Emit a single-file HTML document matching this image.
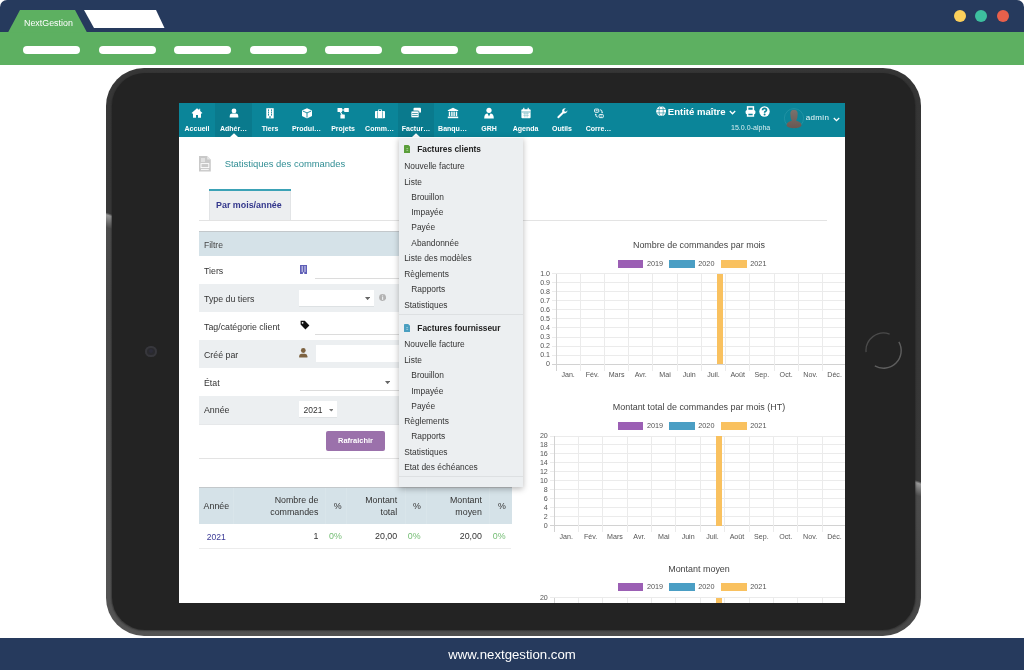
<!DOCTYPE html>
<html><head><meta charset="utf-8"><style>
html,body{margin:0;padding:0;}
body{width:1024px;height:670px;position:relative;overflow:hidden;background:#fff;font-family:"Liberation Sans", sans-serif;-webkit-font-smoothing:antialiased;}
</style></head><body>
<div style="position:absolute;left:0;top:0;width:1024px;height:670px;will-change:transform;">
<div style="position:absolute;left:0px;top:0px;width:1024px;height:33px;background:#263a5d;border-radius:7px 7px 0 0;"></div>
<div style="position:absolute;left:0px;top:32px;width:1024px;height:33px;background:#5db061;"></div>
<svg style="position:absolute;left:0px;top:0px;" width="200" height="40" viewBox="0 0 200 40"><polygon points="8,32.5 20,10 75,10 87,32.5" fill="#5db061"/><polygon points="84,10 156,10 164.5,28 94,28" fill="#fff"/></svg>
<div style="position:absolute;left:24px;top:19.47px;font-size:8.9px;line-height:8.9px;color:#fff;font-weight:normal;white-space:nowrap;">NextGestion</div>
<div style="position:absolute;left:23.0px;top:46px;width:57px;height:8px;background:#fff;border-radius:4px;"></div>
<div style="position:absolute;left:98.5px;top:46px;width:57px;height:8px;background:#fff;border-radius:4px;"></div>
<div style="position:absolute;left:174.0px;top:46px;width:57px;height:8px;background:#fff;border-radius:4px;"></div>
<div style="position:absolute;left:249.5px;top:46px;width:57px;height:8px;background:#fff;border-radius:4px;"></div>
<div style="position:absolute;left:325.0px;top:46px;width:57px;height:8px;background:#fff;border-radius:4px;"></div>
<div style="position:absolute;left:400.5px;top:46px;width:57px;height:8px;background:#fff;border-radius:4px;"></div>
<div style="position:absolute;left:476.0px;top:46px;width:57px;height:8px;background:#fff;border-radius:4px;"></div>
<div style="position:absolute;left:954.4px;top:10px;width:12px;height:12px;background:#fbcf5b;border-radius:50%;"></div>
<div style="position:absolute;left:975.3px;top:10px;width:12px;height:12px;background:#3dbf9f;border-radius:50%;"></div>
<div style="position:absolute;left:996.6px;top:10px;width:12px;height:12px;background:#e8604b;border-radius:50%;"></div>
<div style="position:absolute;left:0px;top:638px;width:1024px;height:32px;background:#263a5d;"></div>
<div style="position:absolute;left:212px;width:600px;text-align:center;top:648.33px;font-size:13.2px;line-height:13.2px;color:#ffffff;font-weight:normal;white-space:nowrap;">www.nextgestion.com</div>
<div style="position:absolute;left:106px;top:67.5px;width:814.5px;height:568px;background:linear-gradient(198.3deg,#353535 0%,#383838 49.4%,#999 49.7%,#4c4c4c 51.2%,#464646 60%,#555 100%);border-radius:38px;"></div>
<div style="position:absolute;left:111.5px;top:72.5px;width:803.5px;height:557.5px;background:#232323;border-radius:33px;box-shadow:0 0.5px 1.5px 0.5px rgba(35,35,35,0.55);"></div>
<div style="position:absolute;left:145.3px;top:345.7px;width:11.4px;height:11.4px;background:#2a2a2e;border-radius:50%;box-shadow:inset 0 0 0 2px #37373c;"></div>
<div style="position:absolute;left:149px;top:349.4px;width:4px;height:4px;background:#2c2c38;border-radius:50%;"></div>
<svg style="position:absolute;left:864px;top:331px;" width="40" height="40" viewBox="0 0 40 40"><path d="M2.07 21.13 A17.6 17.6 0 0 1 25.62 3.06" stroke="#4b4b4b" stroke-width="1.3" fill="none"/><path d="M34.84 10.80 A17.6 17.6 0 0 1 10.80 34.84" stroke="#5e5e5e" stroke-width="1.4" fill="none"/></svg>
</div>
<div style="position:absolute;left:178.5px;top:103px;width:666.6px;height:500.3px;overflow:hidden;background:#fff;"><div style="position:absolute;left:-178.5px;top:-103px;width:1024px;height:670px;will-change:transform;">
<div style="position:absolute;left:178.5px;top:103px;width:667px;height:500.5px;background:#fff;"></div>
<div style="position:absolute;left:178.5px;top:103px;width:667px;height:33.5px;background:#0b8599;"></div>
<svg style="position:absolute;left:191.0px;top:107.2px;" width="12" height="12" viewBox="0 0 12 12"><path d="M6 1.2 L0.6 6 L1.4 6.8 L2 6.3 V10.8 H5 V8 H7 V10.8 H10 V6.3 L10.6 6.8 L11.4 6 L9.2 4 V1.8 H8.2 V3.1 Z" fill="#ffffff"/></svg>
<div style="position:absolute;left:-103.0px;width:600px;text-align:center;top:125.37px;font-size:7px;line-height:7px;color:#ffffff;font-weight:bold;white-space:nowrap;">Accueil</div>
<div style="position:absolute;left:215.25px;top:103px;width:36.5px;height:33.5px;background:#0a7a8d;"></div>
<svg style="position:absolute;left:229.5px;top:133px;" width="8" height="4" viewBox="0 0 8 4"><path d="M0 4 L4 0.3 L8 4 Z" fill="#fff"/></svg>
<svg style="position:absolute;left:227.5px;top:107.2px;" width="12" height="12" viewBox="0 0 12 12"><circle cx="6" cy="3.9" r="2.4" fill="#ffffff"/><path d="M1.7 10.6 V8.9 Q1.7 6.6 4.1 6.6 H7.9 Q10.3 6.6 10.3 8.9 V10.6 Z" fill="#ffffff"/></svg>
<div style="position:absolute;left:-66.5px;width:600px;text-align:center;top:125.37px;font-size:7px;line-height:7px;color:#ffffff;font-weight:bold;white-space:nowrap;">Adhér…</div>
<svg style="position:absolute;left:264.0px;top:107.2px;" width="12" height="12" viewBox="0 0 12 12"><rect x="2.3" y="1.2" width="7.4" height="10.2" fill="#ffffff"/><path d="M4.5 2.4 V8.6 M7.5 2.4 V8.6" stroke="#0b8599" stroke-width="0.9"/><path d="M3.4 4.4 H8.6 M3.4 6.4 H8.6" stroke="#ffffff" stroke-width="0.6"/><rect x="5.4" y="9.2" width="1.2" height="2.2" fill="#0b8599"/></svg>
<div style="position:absolute;left:-30.0px;width:600px;text-align:center;top:125.37px;font-size:7px;line-height:7px;color:#ffffff;font-weight:bold;white-space:nowrap;">Tiers</div>
<svg style="position:absolute;left:300.5px;top:107.2px;" width="12" height="12" viewBox="0 0 12 12"><path d="M6 1.2 L10.6 3.2 Q11 3.4 11 3.9 V8.5 Q11 9 10.6 9.2 L6.4 11.2 Q6 11.4 5.6 11.2 L1.4 9.2 Q1 9 1 8.5 V3.9 Q1 3.4 1.4 3.2 Z" fill="#ffffff"/><path d="M1.8 4 L6 5.9 L10.2 4" stroke="#0b8599" stroke-width="0.9" fill="none"/><path d="M6 5.9 V10.6" stroke="#0b8599" stroke-width="0.9"/></svg>
<div style="position:absolute;left:6.5px;width:600px;text-align:center;top:125.37px;font-size:7px;line-height:7px;color:#ffffff;font-weight:bold;white-space:nowrap;">Produi…</div>
<svg style="position:absolute;left:337.0px;top:107.2px;" width="12" height="12" viewBox="0 0 12 12"><rect x="0.5" y="1" width="4.6" height="4" rx="0.5" fill="#ffffff"/><rect x="7.2" y="1" width="4.6" height="4" rx="0.5" fill="#ffffff"/><rect x="3.4" y="7.4" width="4.4" height="4" rx="0.5" fill="#ffffff"/><path d="M4 3 H8" stroke="#ffffff" stroke-width="1.1"/><path d="M2.8 4 L5.2 8" stroke="#ffffff" stroke-width="1.1"/></svg>
<div style="position:absolute;left:43.0px;width:600px;text-align:center;top:125.37px;font-size:7px;line-height:7px;color:#ffffff;font-weight:bold;white-space:nowrap;">Projets</div>
<svg style="position:absolute;left:373.5px;top:107.2px;" width="12" height="12" viewBox="0 0 12 12"><path d="M4.2 4 V2.4 H7.8 V4 H7 V3.1 H5 V4 Z" fill="#ffffff"/><rect x="1" y="4" width="10" height="7.2" rx="0.8" fill="#ffffff"/><rect x="3.1" y="4.3" width="0.7" height="6.7" fill="#0b8599" opacity="0.8"/><rect x="8.2" y="4.3" width="0.7" height="6.7" fill="#0b8599" opacity="0.8"/></svg>
<div style="position:absolute;left:79.5px;width:600px;text-align:center;top:125.37px;font-size:7px;line-height:7px;color:#ffffff;font-weight:bold;white-space:nowrap;">Comm…</div>
<div style="position:absolute;left:397.75px;top:103px;width:36.5px;height:33.5px;background:#0a7a8d;"></div>
<svg style="position:absolute;left:412.0px;top:133px;" width="8" height="4" viewBox="0 0 8 4"><path d="M0 4 L4 0.3 L8 4 Z" fill="#fff"/></svg>
<svg style="position:absolute;left:410.0px;top:107.2px;" width="12" height="12" viewBox="0 0 12 12"><rect x="3.5" y="0.8" width="7.5" height="5" rx="1" fill="#ffffff"/><rect x="1" y="4" width="8" height="6.8" rx="1" fill="#ffffff" stroke="#0a7a8d" stroke-width="0.8"/><path d="M2.2 6.5 H7.8 M2.2 8.5 H7.8" stroke="#0a7a8d" stroke-width="0.7"/></svg>
<div style="position:absolute;left:116.0px;width:600px;text-align:center;top:125.37px;font-size:7px;line-height:7px;color:#ffffff;font-weight:bold;white-space:nowrap;">Factur…</div>
<svg style="position:absolute;left:446.5px;top:107.2px;" width="12" height="12" viewBox="0 0 12 12"><path d="M6 0.8 L11.2 3.2 V4 H0.8 V3.2 Z" fill="#ffffff"/><rect x="1.8" y="4.6" width="1.4" height="4.6" fill="#ffffff"/><rect x="4.2" y="4.6" width="1.4" height="4.6" fill="#ffffff"/><rect x="6.4" y="4.6" width="1.4" height="4.6" fill="#ffffff"/><rect x="8.8" y="4.6" width="1.4" height="4.6" fill="#ffffff"/><rect x="0.8" y="9.6" width="10.4" height="1.6" fill="#ffffff"/></svg>
<div style="position:absolute;left:152.5px;width:600px;text-align:center;top:125.37px;font-size:7px;line-height:7px;color:#ffffff;font-weight:bold;white-space:nowrap;">Banqu…</div>
<svg style="position:absolute;left:483.0px;top:107.2px;" width="12" height="12" viewBox="0 0 12 12"><circle cx="6" cy="3.3" r="2.6" fill="#ffffff"/><path d="M1.2 11.4 Q1.2 6.8 4.6 6.6 L6 9.6 L7.4 6.6 Q10.8 6.8 10.8 11.4 Z" fill="#ffffff"/></svg>
<div style="position:absolute;left:189.0px;width:600px;text-align:center;top:125.37px;font-size:7px;line-height:7px;color:#ffffff;font-weight:bold;white-space:nowrap;">GRH</div>
<svg style="position:absolute;left:519.5px;top:107.2px;" width="12" height="12" viewBox="0 0 12 12"><rect x="1.4" y="2.2" width="9.2" height="9" rx="1" fill="#ffffff"/><rect x="3.2" y="0.8" width="1.2" height="2.4" fill="#ffffff"/><rect x="7.6" y="0.8" width="1.2" height="2.4" fill="#ffffff"/><path d="M1.8 5 H10.2" stroke="#0b8599" stroke-width="0.6"/><path d="M3.2 6.6 H9 M3.2 8.4 H9 M4.6 5.6 V10.4 M6 5.6 V10.4 M7.4 5.6 V10.4" stroke="#0b8599" stroke-width="0.35" opacity="0.7"/></svg>
<div style="position:absolute;left:225.5px;width:600px;text-align:center;top:125.37px;font-size:7px;line-height:7px;color:#ffffff;font-weight:bold;white-space:nowrap;">Agenda</div>
<svg style="position:absolute;left:556.0px;top:107.2px;" width="12" height="12" viewBox="0 0 12 12"><path d="M1.6 9.6 L6.2 5 A3 3 0 0 1 9.8 1.3 L8.2 2.9 L8.6 4.4 L10.1 4.8 L11.4 3.3 A3 3 0 0 1 7.6 6.4 L3 11 A1 1 0 0 1 1.6 9.6 Z" fill="#ffffff"/></svg>
<div style="position:absolute;left:262.0px;width:600px;text-align:center;top:125.37px;font-size:7px;line-height:7px;color:#ffffff;font-weight:bold;white-space:nowrap;">Outils</div>
<svg style="position:absolute;left:592.5px;top:107.2px;" width="12" height="12" viewBox="0 0 12 12"><g transform="translate(0.9,1.4) scale(0.84)"><rect x="0.8" y="0.8" width="5" height="3.8" rx="0.9" fill="none" stroke="#ffffff" stroke-width="1.1"/><rect x="6.2" y="7.2" width="5" height="3.8" rx="0.9" fill="none" stroke="#ffffff" stroke-width="1.1"/><path d="M2.2 2.5 H4.4 M7.6 9.1 H9.8" stroke="#ffffff" stroke-width="0.8"/><path d="M7.4 1.6 Q9.8 1.6 9.8 4.6" stroke="#ffffff" stroke-width="1.1" fill="none"/><path d="M8.6 4.2 L9.8 5.8 L11 4.2 Z" fill="#ffffff"/><path d="M4.6 10.4 Q2.2 10.4 2.2 7.4" stroke="#ffffff" stroke-width="1.1" fill="none"/><path d="M1 7.8 L2.2 6.2 L3.4 7.8 Z" fill="#ffffff"/></g></svg>
<div style="position:absolute;left:298.5px;width:600px;text-align:center;top:125.37px;font-size:7px;line-height:7px;color:#ffffff;font-weight:bold;white-space:nowrap;">Corre…</div>
<svg style="position:absolute;left:655.6px;top:105.7px;" width="10.4" height="10.4" viewBox="0 0 10.4 10.4"><circle cx="5.2" cy="5.2" r="5" fill="#fff"/><path d="M0.5 3.5 H9.9 M0.5 6.9 H9.9" stroke="#0b8599" stroke-width="0.6" fill="none"/><ellipse cx="5.2" cy="5.2" rx="2.1" ry="5" fill="none" stroke="#0b8599" stroke-width="0.6"/></svg>
<div style="position:absolute;left:667.8px;top:107.02px;font-size:9.55px;line-height:9.55px;color:#ffffff;font-weight:bold;white-space:nowrap;">Entité maître</div>
<svg style="position:absolute;left:729px;top:109.5px;" width="7" height="5" viewBox="0 0 7 5"><path d="M0.8 1 L3.5 3.8 L6.2 1" stroke="#fff" stroke-width="1.3" fill="none"/></svg>
<svg style="position:absolute;left:744.6px;top:105.8px;" width="11" height="10.8" viewBox="0 0 11 10.8"><rect x="2.6" y="0.9" width="5.8" height="3.6" fill="none" stroke="#fff" stroke-width="1.5"/><rect x="0.6" y="3.9" width="9.8" height="4.4" rx="1.6" fill="#fff"/><rect x="2.6" y="7" width="5.8" height="3" fill="#0b8599" stroke="#fff" stroke-width="1.5"/></svg>
<svg style="position:absolute;left:758.8px;top:106.2px;" width="11" height="11" viewBox="0 0 11 11"><circle cx="5.5" cy="5.5" r="5.2" fill="#fff"/><path d="M3.5 4.3 Q3.5 2.3 5.5 2.3 Q7.5 2.3 7.5 4 Q7.5 5 6.3 5.5 Q5.6 5.9 5.6 6.7" stroke="#0b8599" stroke-width="1.7" fill="none"/><circle cx="5.6" cy="8.5" r="1" fill="#0b8599"/></svg>
<div style="position:absolute;left:731px;top:123.72px;font-size:7.07px;line-height:7.07px;color:#d9eef1;font-weight:normal;white-space:nowrap;">15.0.0-alpha</div>
<svg style="position:absolute;left:783.5px;top:107.5px;" width="20" height="21" viewBox="0 0 20 21"><defs><linearGradient id="av" x1="0" y1="0" x2="0" y2="1"><stop offset="0" stop-color="#7a726d"/><stop offset="1" stop-color="#6a5853"/></linearGradient></defs><circle cx="10" cy="10.2" r="9.6" fill="none" stroke="#3ea3b2" stroke-width="0.6" opacity="0.7"/><path d="M6.3 5.5 Q6.3 1.7 10 1.7 Q13.7 1.7 13.7 5.5 Q13.7 10 12.2 12.8 Q17.5 14 17.5 17.5 Q16 20.2 10 20.2 Q4 20.2 2.5 17.5 Q2.5 14 7.8 12.8 Q6.3 10 6.3 5.5 Z" fill="url(#av)"/></svg>
<div style="position:absolute;left:805.8px;top:114.23px;font-size:8px;line-height:8px;color:#eef8fa;font-weight:normal;white-space:nowrap;letter-spacing:0.33px;">admin</div>
<svg style="position:absolute;left:832.8px;top:116.5px;" width="7" height="5" viewBox="0 0 7 5"><path d="M0.8 1 L3.5 3.6 L6.2 1" stroke="#fff" stroke-width="1.3" fill="none"/></svg>
<svg style="position:absolute;left:198.5px;top:156px;" width="12" height="16" viewBox="0 0 12 16"><path d="M0 0 H8.2 L11.8 3.6 V15.6 H0 Z" fill="#c9c9c9"/><path d="M8.2 0 V3.6 H11.8" fill="#e6e6e6"/><path d="M2 3 H6 M2 5 H6" stroke="#fff" stroke-width="0.9"/><rect x="2" y="7.6" width="7.8" height="4" fill="none" stroke="#fff" stroke-width="0.9"/><path d="M2 13.6 H9.8" stroke="#fff" stroke-width="0.9"/></svg>
<div style="position:absolute;left:224.7px;top:159.30px;font-size:9.45px;line-height:9.45px;color:#318e94;font-weight:normal;white-space:nowrap;">Statistiques des commandes</div>
<div style="position:absolute;left:208.8px;top:189px;width:82.3px;height:31px;background:#eceef0;border-left:1px solid #e2e4e6;border-right:1px solid #e2e4e6;box-sizing:border-box;"></div>
<div style="position:absolute;left:208.8px;top:188.8px;width:82.3px;height:2px;background:#3ba2b6;"></div>
<div style="position:absolute;left:216.1px;top:200.58px;font-size:8.88px;line-height:8.88px;color:#33378c;font-weight:bold;white-space:nowrap;">Par mois/année</div>
<div style="position:absolute;left:198.5px;top:220px;width:628.3px;height:1px;background:#e3e3e3;"></div>
<div style="position:absolute;left:198.8px;top:231px;width:313.2px;height:1px;background:#c3c8cb;"></div>
<div style="position:absolute;left:198.8px;top:232px;width:313.2px;height:24px;background:#d5e2e8;"></div>
<div style="position:absolute;left:203.9px;top:240.92px;font-size:8.6px;line-height:8.6px;color:#444;font-weight:normal;white-space:nowrap;">Filtre</div>
<div style="position:absolute;left:198.8px;top:256px;width:313.2px;height:28px;background:#fff;"></div>
<div style="position:absolute;left:198.8px;top:283.5px;width:313.2px;height:1px;background:#e6e8ea;"></div>
<div style="position:absolute;left:204px;top:266.65px;font-size:8.8px;line-height:8.8px;color:#333;font-weight:normal;white-space:nowrap;">Tiers</div>
<div style="position:absolute;left:198.8px;top:284px;width:313.2px;height:28.399999999999977px;background:#eceff1;"></div>
<div style="position:absolute;left:198.8px;top:311.9px;width:313.2px;height:1px;background:#e6e8ea;"></div>
<div style="position:absolute;left:204px;top:294.75px;font-size:8.8px;line-height:8.8px;color:#333;font-weight:normal;white-space:nowrap;">Type du tiers</div>
<div style="position:absolute;left:198.8px;top:312.4px;width:313.2px;height:28.0px;background:#fff;"></div>
<div style="position:absolute;left:198.8px;top:339.9px;width:313.2px;height:1px;background:#e6e8ea;"></div>
<div style="position:absolute;left:204px;top:322.75px;font-size:8.8px;line-height:8.8px;color:#333;font-weight:normal;white-space:nowrap;">Tag/catégorie client</div>
<div style="position:absolute;left:198.8px;top:340.4px;width:313.2px;height:27.600000000000023px;background:#eceff1;"></div>
<div style="position:absolute;left:198.8px;top:367.5px;width:313.2px;height:1px;background:#e6e8ea;"></div>
<div style="position:absolute;left:204px;top:350.95px;font-size:8.8px;line-height:8.8px;color:#333;font-weight:normal;white-space:nowrap;">Créé par</div>
<div style="position:absolute;left:198.8px;top:368px;width:313.2px;height:28px;background:#fff;"></div>
<div style="position:absolute;left:198.8px;top:395.5px;width:313.2px;height:1px;background:#e6e8ea;"></div>
<div style="position:absolute;left:204px;top:378.65px;font-size:8.8px;line-height:8.8px;color:#333;font-weight:normal;white-space:nowrap;">État</div>
<div style="position:absolute;left:198.8px;top:396px;width:313.2px;height:28.30000000000001px;background:#eceff1;"></div>
<div style="position:absolute;left:198.8px;top:423.8px;width:313.2px;height:1px;background:#e6e8ea;"></div>
<div style="position:absolute;left:204px;top:406.15px;font-size:8.8px;line-height:8.8px;color:#333;font-weight:normal;white-space:nowrap;">Année</div>
<svg style="position:absolute;left:300px;top:264.8px;" width="7.2" height="9.4" viewBox="0 0 7.2 9.4"><rect x="0" y="0" width="7.2" height="9.4" fill="#5f5fb7"/><path d="M2.2 1 V7 M5 1 V7" stroke="#fff" stroke-width="0.9" opacity="0.85"/><rect x="2.9" y="7.4" width="1.4" height="2" fill="#fff"/></svg>
<div style="position:absolute;left:315.2px;top:278.2px;width:200px;height:1px;background:#dcdcdc;"></div>
<div style="position:absolute;left:299.1px;top:289.6px;width:74.7px;height:17.5px;background:#fff;border-bottom:1px solid #dde1e3;box-sizing:border-box;"></div>
<svg style="position:absolute;left:364.6px;top:296.8px;" width="5.2" height="3.2" viewBox="0 0 5.2 3.2"><path d="M0 0 H5.2 L2.6 3.2 Z" fill="#666"/></svg>
<svg style="position:absolute;left:378.8px;top:294.4px;" width="7.2" height="7.2" viewBox="0 0 7.2 7.2"><circle cx="3.6" cy="3.6" r="3.5" fill="#b3b3b3"/><rect x="3.05" y="3" width="1.1" height="2.9" fill="#eceff1"/><circle cx="3.6" cy="1.9" r="0.6" fill="#eceff1"/></svg>
<svg style="position:absolute;left:299.5px;top:320.2px;" width="10" height="10" viewBox="0 0 10 10"><path d="M0.6 0.8 H4.8 L9.4 5.4 L5.4 9.4 L0.6 4.6 Z" fill="#111"/><circle cx="2.6" cy="2.8" r="0.9" fill="#fff"/></svg>
<div style="position:absolute;left:315.2px;top:334.2px;width:200px;height:1px;background:#dcdcdc;"></div>
<svg style="position:absolute;left:299.2px;top:347.8px;" width="8.6" height="9.8" viewBox="0 0 8.6 9.8"><circle cx="4.3" cy="2.5" r="2.4" fill="#7d6240"/><path d="M0.2 9.6 V8.2 Q0.2 5.7 2.7 5.7 H5.9 Q8.4 5.7 8.4 8.2 V9.6 Z" fill="#7d6240"/></svg>
<div style="position:absolute;left:315.7px;top:345.3px;width:200px;height:17.2px;background:#fff;"></div>
<div style="position:absolute;left:299.6px;top:390px;width:100px;height:1px;background:#dcdcdc;"></div>
<svg style="position:absolute;left:385.2px;top:380.8px;" width="5.2" height="3.2" viewBox="0 0 5.2 3.2"><path d="M0 0 H5.2 L2.6 3.2 Z" fill="#666"/></svg>
<div style="position:absolute;left:299.4px;top:401.3px;width:38.1px;height:17.1px;background:#fff;border-bottom:1px solid #e0e3e5;box-sizing:border-box;"></div>
<div style="position:absolute;left:303.6px;top:406.20px;font-size:8.5px;line-height:8.5px;color:#333;font-weight:normal;white-space:nowrap;">2021</div>
<svg style="position:absolute;left:328.6px;top:409.2px;" width="4.6" height="2.6" viewBox="0 0 4.6 2.6"><path d="M0 0 H4.6 L2.3 2.6 Z" fill="#777"/></svg>
<div style="position:absolute;left:326.2px;top:431.1px;width:58.6px;height:20.1px;background:#9b71ab;border-radius:2px;"></div>
<div style="position:absolute;left:55.5px;width:600px;text-align:center;top:437.45px;font-size:7.5px;line-height:7.5px;color:#fff;font-weight:bold;white-space:nowrap;">Rafraichir</div>
<div style="position:absolute;left:198.8px;top:458px;width:313.2px;height:1px;background:#e3e3e3;"></div>
<div style="position:absolute;left:198.8px;top:487px;width:313.2px;height:1px;background:#c3c8cb;"></div>
<div style="position:absolute;left:198.8px;top:488px;width:313.2px;height:35.8px;background:#d5e2e8;"></div>
<div style="position:absolute;left:233.3px;top:488px;width:1px;height:35.8px;background:#d9e5ea;"></div>
<div style="position:absolute;left:324.7px;top:488px;width:1px;height:35.8px;background:#d9e5ea;"></div>
<div style="position:absolute;left:345.8px;top:488px;width:1px;height:35.8px;background:#d9e5ea;"></div>
<div style="position:absolute;left:405px;top:488px;width:1px;height:35.8px;background:#d9e5ea;"></div>
<div style="position:absolute;left:426px;top:488px;width:1px;height:35.8px;background:#d9e5ea;"></div>
<div style="position:absolute;left:489.4px;top:488px;width:1px;height:35.8px;background:#d9e5ea;"></div>
<div style="position:absolute;left:203.6px;top:502.21px;font-size:8.85px;line-height:8.85px;color:#333;font-weight:normal;white-space:nowrap;">Année</div>
<div style="position:absolute;right:705.6px;top:495.91px;font-size:8.85px;line-height:8.85px;color:#333;font-weight:normal;white-space:nowrap;">Nombre de</div>
<div style="position:absolute;right:705.6px;top:508.11px;font-size:8.85px;line-height:8.85px;color:#333;font-weight:normal;white-space:nowrap;">commandes</div>
<div style="position:absolute;left:333.75px;top:502.21px;font-size:8.85px;line-height:8.85px;color:#333;font-weight:normal;white-space:nowrap;">%</div>
<div style="position:absolute;right:626.8px;top:495.91px;font-size:8.85px;line-height:8.85px;color:#333;font-weight:normal;white-space:nowrap;">Montant</div>
<div style="position:absolute;right:626.8px;top:508.11px;font-size:8.85px;line-height:8.85px;color:#333;font-weight:normal;white-space:nowrap;">total</div>
<div style="position:absolute;left:413.1px;top:502.21px;font-size:8.85px;line-height:8.85px;color:#333;font-weight:normal;white-space:nowrap;">%</div>
<div style="position:absolute;right:542.1px;top:495.91px;font-size:8.85px;line-height:8.85px;color:#333;font-weight:normal;white-space:nowrap;">Montant</div>
<div style="position:absolute;right:542.1px;top:508.11px;font-size:8.85px;line-height:8.85px;color:#333;font-weight:normal;white-space:nowrap;">moyen</div>
<div style="position:absolute;left:498px;top:502.21px;font-size:8.85px;line-height:8.85px;color:#333;font-weight:normal;white-space:nowrap;">%</div>
<div style="position:absolute;left:206.7px;top:532.72px;font-size:8.6px;line-height:8.6px;color:#3b3a96;font-weight:normal;white-space:nowrap;">2021</div>
<div style="position:absolute;right:705.6px;top:532.21px;font-size:8.85px;line-height:8.85px;color:#333;font-weight:normal;white-space:nowrap;">1</div>
<div style="position:absolute;left:329px;top:532.21px;font-size:8.85px;line-height:8.85px;color:#74bd74;font-weight:normal;white-space:nowrap;">0%</div>
<div style="position:absolute;right:626.8px;top:532.21px;font-size:8.85px;line-height:8.85px;color:#333;font-weight:normal;white-space:nowrap;">20,00</div>
<div style="position:absolute;left:407.8px;top:532.21px;font-size:8.85px;line-height:8.85px;color:#74bd74;font-weight:normal;white-space:nowrap;">0%</div>
<div style="position:absolute;right:542.1px;top:532.21px;font-size:8.85px;line-height:8.85px;color:#333;font-weight:normal;white-space:nowrap;">20,00</div>
<div style="position:absolute;left:492.8px;top:532.21px;font-size:8.85px;line-height:8.85px;color:#74bd74;font-weight:normal;white-space:nowrap;">0%</div>
<div style="position:absolute;left:198.8px;top:547.5px;width:312.2px;height:1px;background:#ececec;"></div>
<div style="position:absolute;left:399px;width:600px;text-align:center;top:241.22px;font-size:8.95px;line-height:8.95px;color:#444;font-weight:normal;white-space:nowrap;">Nombre de commandes par mois</div>
<div style="position:absolute;left:617.6px;top:259.90000000000003px;width:25.5px;height:8.2px;background:#9b5fb4;"></div>
<div style="position:absolute;left:646.9px;top:259.96px;font-size:7.25px;line-height:7.25px;color:#555;font-weight:normal;white-space:nowrap;">2019</div>
<div style="position:absolute;left:669px;top:259.90000000000003px;width:25.5px;height:8.2px;background:#4a9ec4;"></div>
<div style="position:absolute;left:698.3px;top:259.96px;font-size:7.25px;line-height:7.25px;color:#555;font-weight:normal;white-space:nowrap;">2020</div>
<div style="position:absolute;left:721px;top:259.90000000000003px;width:25.5px;height:8.2px;background:#f9c15f;"></div>
<div style="position:absolute;left:750.3px;top:259.96px;font-size:7.25px;line-height:7.25px;color:#555;font-weight:normal;white-space:nowrap;">2021</div>
<div style="position:absolute;left:551.5px;top:273.3px;width:295.20000000000005px;height:1px;background:#ebebeb;"></div>
<div style="position:absolute;right:474px;top:270.79px;font-size:7.1px;line-height:7.1px;color:#555;font-weight:normal;white-space:nowrap;">1.0</div>
<div style="position:absolute;left:551.5px;top:282.33000000000004px;width:295.20000000000005px;height:1px;background:#ebebeb;"></div>
<div style="position:absolute;right:474px;top:279.82px;font-size:7.1px;line-height:7.1px;color:#555;font-weight:normal;white-space:nowrap;">0.9</div>
<div style="position:absolute;left:551.5px;top:291.36px;width:295.20000000000005px;height:1px;background:#ebebeb;"></div>
<div style="position:absolute;right:474px;top:288.85px;font-size:7.1px;line-height:7.1px;color:#555;font-weight:normal;white-space:nowrap;">0.8</div>
<div style="position:absolute;left:551.5px;top:300.39px;width:295.20000000000005px;height:1px;background:#ebebeb;"></div>
<div style="position:absolute;right:474px;top:297.88px;font-size:7.1px;line-height:7.1px;color:#555;font-weight:normal;white-space:nowrap;">0.7</div>
<div style="position:absolute;left:551.5px;top:309.42px;width:295.20000000000005px;height:1px;background:#ebebeb;"></div>
<div style="position:absolute;right:474px;top:306.91px;font-size:7.1px;line-height:7.1px;color:#555;font-weight:normal;white-space:nowrap;">0.6</div>
<div style="position:absolute;left:551.5px;top:318.45000000000005px;width:295.20000000000005px;height:1px;background:#ebebeb;"></div>
<div style="position:absolute;right:474px;top:315.94px;font-size:7.1px;line-height:7.1px;color:#555;font-weight:normal;white-space:nowrap;">0.5</div>
<div style="position:absolute;left:551.5px;top:327.48px;width:295.20000000000005px;height:1px;background:#ebebeb;"></div>
<div style="position:absolute;right:474px;top:324.97px;font-size:7.1px;line-height:7.1px;color:#555;font-weight:normal;white-space:nowrap;">0.4</div>
<div style="position:absolute;left:551.5px;top:336.51px;width:295.20000000000005px;height:1px;background:#ebebeb;"></div>
<div style="position:absolute;right:474px;top:334.00px;font-size:7.1px;line-height:7.1px;color:#555;font-weight:normal;white-space:nowrap;">0.3</div>
<div style="position:absolute;left:551.5px;top:345.54px;width:295.20000000000005px;height:1px;background:#ebebeb;"></div>
<div style="position:absolute;right:474px;top:343.03px;font-size:7.1px;line-height:7.1px;color:#555;font-weight:normal;white-space:nowrap;">0.2</div>
<div style="position:absolute;left:551.5px;top:354.57000000000005px;width:295.20000000000005px;height:1px;background:#ebebeb;"></div>
<div style="position:absolute;right:474px;top:352.06px;font-size:7.1px;line-height:7.1px;color:#555;font-weight:normal;white-space:nowrap;">0.1</div>
<div style="position:absolute;left:551.5px;top:363.6px;width:295.20000000000005px;height:1px;background:#d2d2d2;"></div>
<div style="position:absolute;right:474px;top:361.09px;font-size:7.1px;line-height:7.1px;color:#555;font-weight:normal;white-space:nowrap;">0</div>
<div style="position:absolute;left:555.5px;top:273.8px;width:1px;height:96.80000000000001px;background:#d2d2d2;"></div>
<div style="position:absolute;left:579.725px;top:273.8px;width:1px;height:96.80000000000001px;background:#ebebeb;"></div>
<div style="position:absolute;left:603.95px;top:273.8px;width:1px;height:96.80000000000001px;background:#ebebeb;"></div>
<div style="position:absolute;left:628.175px;top:273.8px;width:1px;height:96.80000000000001px;background:#ebebeb;"></div>
<div style="position:absolute;left:652.4px;top:273.8px;width:1px;height:96.80000000000001px;background:#ebebeb;"></div>
<div style="position:absolute;left:676.625px;top:273.8px;width:1px;height:96.80000000000001px;background:#ebebeb;"></div>
<div style="position:absolute;left:700.85px;top:273.8px;width:1px;height:96.80000000000001px;background:#ebebeb;"></div>
<div style="position:absolute;left:725.075px;top:273.8px;width:1px;height:96.80000000000001px;background:#ebebeb;"></div>
<div style="position:absolute;left:749.3000000000001px;top:273.8px;width:1px;height:96.80000000000001px;background:#ebebeb;"></div>
<div style="position:absolute;left:773.5250000000001px;top:273.8px;width:1px;height:96.80000000000001px;background:#ebebeb;"></div>
<div style="position:absolute;left:797.75px;top:273.8px;width:1px;height:96.80000000000001px;background:#ebebeb;"></div>
<div style="position:absolute;left:821.9750000000001px;top:273.8px;width:1px;height:96.80000000000001px;background:#ebebeb;"></div>
<div style="position:absolute;left:846.2px;top:273.8px;width:1px;height:96.80000000000001px;background:#ebebeb;"></div>
<div style="position:absolute;left:716.6925000000001px;top:273.8px;width:6.460000000000002px;height:90.30000000000001px;background:#f9c15f;"></div>
<div style="position:absolute;left:268.11249999999995px;width:600px;text-align:center;top:372.09px;font-size:7.1px;line-height:7.1px;color:#555;font-weight:normal;white-space:nowrap;">Jan.</div>
<div style="position:absolute;left:292.3375px;width:600px;text-align:center;top:372.09px;font-size:7.1px;line-height:7.1px;color:#555;font-weight:normal;white-space:nowrap;">Fév.</div>
<div style="position:absolute;left:316.5625px;width:600px;text-align:center;top:372.09px;font-size:7.1px;line-height:7.1px;color:#555;font-weight:normal;white-space:nowrap;">Mars</div>
<div style="position:absolute;left:340.7875px;width:600px;text-align:center;top:372.09px;font-size:7.1px;line-height:7.1px;color:#555;font-weight:normal;white-space:nowrap;">Avr.</div>
<div style="position:absolute;left:365.01250000000005px;width:600px;text-align:center;top:372.09px;font-size:7.1px;line-height:7.1px;color:#555;font-weight:normal;white-space:nowrap;">Mai</div>
<div style="position:absolute;left:389.23750000000007px;width:600px;text-align:center;top:372.09px;font-size:7.1px;line-height:7.1px;color:#555;font-weight:normal;white-space:nowrap;">Juin</div>
<div style="position:absolute;left:413.4625000000001px;width:600px;text-align:center;top:372.09px;font-size:7.1px;line-height:7.1px;color:#555;font-weight:normal;white-space:nowrap;">Juil.</div>
<div style="position:absolute;left:437.6875px;width:600px;text-align:center;top:372.09px;font-size:7.1px;line-height:7.1px;color:#555;font-weight:normal;white-space:nowrap;">Août</div>
<div style="position:absolute;left:461.9125px;width:600px;text-align:center;top:372.09px;font-size:7.1px;line-height:7.1px;color:#555;font-weight:normal;white-space:nowrap;">Sep.</div>
<div style="position:absolute;left:486.13750000000005px;width:600px;text-align:center;top:372.09px;font-size:7.1px;line-height:7.1px;color:#555;font-weight:normal;white-space:nowrap;">Oct.</div>
<div style="position:absolute;left:510.36250000000007px;width:600px;text-align:center;top:372.09px;font-size:7.1px;line-height:7.1px;color:#555;font-weight:normal;white-space:nowrap;">Nov.</div>
<div style="position:absolute;left:534.5875000000001px;width:600px;text-align:center;top:372.09px;font-size:7.1px;line-height:7.1px;color:#555;font-weight:normal;white-space:nowrap;">Déc.</div>
<div style="position:absolute;left:399px;width:600px;text-align:center;top:402.92px;font-size:8.95px;line-height:8.95px;color:#444;font-weight:normal;white-space:nowrap;">Montant total de commandes par mois (HT)</div>
<div style="position:absolute;left:617.6px;top:421.6px;width:25.5px;height:8.2px;background:#9b5fb4;"></div>
<div style="position:absolute;left:646.9px;top:421.66px;font-size:7.25px;line-height:7.25px;color:#555;font-weight:normal;white-space:nowrap;">2019</div>
<div style="position:absolute;left:669px;top:421.6px;width:25.5px;height:8.2px;background:#4a9ec4;"></div>
<div style="position:absolute;left:698.3px;top:421.66px;font-size:7.25px;line-height:7.25px;color:#555;font-weight:normal;white-space:nowrap;">2020</div>
<div style="position:absolute;left:721px;top:421.6px;width:25.5px;height:8.2px;background:#f9c15f;"></div>
<div style="position:absolute;left:750.3px;top:421.66px;font-size:7.25px;line-height:7.25px;color:#555;font-weight:normal;white-space:nowrap;">2021</div>
<div style="position:absolute;left:549.5px;top:435.5px;width:297.20000000000005px;height:1px;background:#ebebeb;"></div>
<div style="position:absolute;right:476.20000000000005px;top:432.99px;font-size:7.1px;line-height:7.1px;color:#555;font-weight:normal;white-space:nowrap;">20</div>
<div style="position:absolute;left:549.5px;top:444.48px;width:297.20000000000005px;height:1px;background:#ebebeb;"></div>
<div style="position:absolute;right:476.20000000000005px;top:441.97px;font-size:7.1px;line-height:7.1px;color:#555;font-weight:normal;white-space:nowrap;">18</div>
<div style="position:absolute;left:549.5px;top:453.46px;width:297.20000000000005px;height:1px;background:#ebebeb;"></div>
<div style="position:absolute;right:476.20000000000005px;top:450.95px;font-size:7.1px;line-height:7.1px;color:#555;font-weight:normal;white-space:nowrap;">16</div>
<div style="position:absolute;left:549.5px;top:462.44px;width:297.20000000000005px;height:1px;background:#ebebeb;"></div>
<div style="position:absolute;right:476.20000000000005px;top:459.93px;font-size:7.1px;line-height:7.1px;color:#555;font-weight:normal;white-space:nowrap;">14</div>
<div style="position:absolute;left:549.5px;top:471.41999999999996px;width:297.20000000000005px;height:1px;background:#ebebeb;"></div>
<div style="position:absolute;right:476.20000000000005px;top:468.91px;font-size:7.1px;line-height:7.1px;color:#555;font-weight:normal;white-space:nowrap;">12</div>
<div style="position:absolute;left:549.5px;top:480.4px;width:297.20000000000005px;height:1px;background:#ebebeb;"></div>
<div style="position:absolute;right:476.20000000000005px;top:477.89px;font-size:7.1px;line-height:7.1px;color:#555;font-weight:normal;white-space:nowrap;">10</div>
<div style="position:absolute;left:549.5px;top:489.38px;width:297.20000000000005px;height:1px;background:#ebebeb;"></div>
<div style="position:absolute;right:476.20000000000005px;top:486.87px;font-size:7.1px;line-height:7.1px;color:#555;font-weight:normal;white-space:nowrap;">8</div>
<div style="position:absolute;left:549.5px;top:498.35999999999996px;width:297.20000000000005px;height:1px;background:#ebebeb;"></div>
<div style="position:absolute;right:476.20000000000005px;top:495.85px;font-size:7.1px;line-height:7.1px;color:#555;font-weight:normal;white-space:nowrap;">6</div>
<div style="position:absolute;left:549.5px;top:507.34px;width:297.20000000000005px;height:1px;background:#ebebeb;"></div>
<div style="position:absolute;right:476.20000000000005px;top:504.83px;font-size:7.1px;line-height:7.1px;color:#555;font-weight:normal;white-space:nowrap;">4</div>
<div style="position:absolute;left:549.5px;top:516.3199999999999px;width:297.20000000000005px;height:1px;background:#ebebeb;"></div>
<div style="position:absolute;right:476.20000000000005px;top:513.81px;font-size:7.1px;line-height:7.1px;color:#555;font-weight:normal;white-space:nowrap;">2</div>
<div style="position:absolute;left:549.5px;top:525.3px;width:297.20000000000005px;height:1px;background:#d2d2d2;"></div>
<div style="position:absolute;right:476.20000000000005px;top:522.79px;font-size:7.1px;line-height:7.1px;color:#555;font-weight:normal;white-space:nowrap;">0</div>
<div style="position:absolute;left:553.5px;top:436px;width:1px;height:96.29999999999995px;background:#d2d2d2;"></div>
<div style="position:absolute;left:577.8916666666667px;top:436px;width:1px;height:96.29999999999995px;background:#ebebeb;"></div>
<div style="position:absolute;left:602.2833333333333px;top:436px;width:1px;height:96.29999999999995px;background:#ebebeb;"></div>
<div style="position:absolute;left:626.675px;top:436px;width:1px;height:96.29999999999995px;background:#ebebeb;"></div>
<div style="position:absolute;left:651.0666666666667px;top:436px;width:1px;height:96.29999999999995px;background:#ebebeb;"></div>
<div style="position:absolute;left:675.4583333333334px;top:436px;width:1px;height:96.29999999999995px;background:#ebebeb;"></div>
<div style="position:absolute;left:699.85px;top:436px;width:1px;height:96.29999999999995px;background:#ebebeb;"></div>
<div style="position:absolute;left:724.2416666666667px;top:436px;width:1px;height:96.29999999999995px;background:#ebebeb;"></div>
<div style="position:absolute;left:748.6333333333333px;top:436px;width:1px;height:96.29999999999995px;background:#ebebeb;"></div>
<div style="position:absolute;left:773.0250000000001px;top:436px;width:1px;height:96.29999999999995px;background:#ebebeb;"></div>
<div style="position:absolute;left:797.4166666666667px;top:436px;width:1px;height:96.29999999999995px;background:#ebebeb;"></div>
<div style="position:absolute;left:821.8083333333334px;top:436px;width:1px;height:96.29999999999995px;background:#ebebeb;"></div>
<div style="position:absolute;left:846.2px;top:436px;width:1px;height:96.29999999999995px;background:#ebebeb;"></div>
<div style="position:absolute;left:715.7980555555556px;top:436px;width:6.504444444444445px;height:89.79999999999995px;background:#f9c15f;"></div>
<div style="position:absolute;left:266.1958333333333px;width:600px;text-align:center;top:533.79px;font-size:7.1px;line-height:7.1px;color:#555;font-weight:normal;white-space:nowrap;">Jan.</div>
<div style="position:absolute;left:290.5875px;width:600px;text-align:center;top:533.79px;font-size:7.1px;line-height:7.1px;color:#555;font-weight:normal;white-space:nowrap;">Fév.</div>
<div style="position:absolute;left:314.97916666666663px;width:600px;text-align:center;top:533.79px;font-size:7.1px;line-height:7.1px;color:#555;font-weight:normal;white-space:nowrap;">Mars</div>
<div style="position:absolute;left:339.3708333333334px;width:600px;text-align:center;top:533.79px;font-size:7.1px;line-height:7.1px;color:#555;font-weight:normal;white-space:nowrap;">Avr.</div>
<div style="position:absolute;left:363.76250000000005px;width:600px;text-align:center;top:533.79px;font-size:7.1px;line-height:7.1px;color:#555;font-weight:normal;white-space:nowrap;">Mai</div>
<div style="position:absolute;left:388.1541666666667px;width:600px;text-align:center;top:533.79px;font-size:7.1px;line-height:7.1px;color:#555;font-weight:normal;white-space:nowrap;">Juin</div>
<div style="position:absolute;left:412.54583333333335px;width:600px;text-align:center;top:533.79px;font-size:7.1px;line-height:7.1px;color:#555;font-weight:normal;white-space:nowrap;">Juil.</div>
<div style="position:absolute;left:436.9375px;width:600px;text-align:center;top:533.79px;font-size:7.1px;line-height:7.1px;color:#555;font-weight:normal;white-space:nowrap;">Août</div>
<div style="position:absolute;left:461.32916666666665px;width:600px;text-align:center;top:533.79px;font-size:7.1px;line-height:7.1px;color:#555;font-weight:normal;white-space:nowrap;">Sep.</div>
<div style="position:absolute;left:485.7208333333333px;width:600px;text-align:center;top:533.79px;font-size:7.1px;line-height:7.1px;color:#555;font-weight:normal;white-space:nowrap;">Oct.</div>
<div style="position:absolute;left:510.11249999999995px;width:600px;text-align:center;top:533.79px;font-size:7.1px;line-height:7.1px;color:#555;font-weight:normal;white-space:nowrap;">Nov.</div>
<div style="position:absolute;left:534.5041666666667px;width:600px;text-align:center;top:533.79px;font-size:7.1px;line-height:7.1px;color:#555;font-weight:normal;white-space:nowrap;">Déc.</div>
<div style="position:absolute;left:399px;width:600px;text-align:center;top:564.52px;font-size:8.95px;line-height:8.95px;color:#444;font-weight:normal;white-space:nowrap;">Montant moyen</div>
<div style="position:absolute;left:617.6px;top:583.2px;width:25.5px;height:8.2px;background:#9b5fb4;"></div>
<div style="position:absolute;left:646.9px;top:583.26px;font-size:7.25px;line-height:7.25px;color:#555;font-weight:normal;white-space:nowrap;">2019</div>
<div style="position:absolute;left:669px;top:583.2px;width:25.5px;height:8.2px;background:#4a9ec4;"></div>
<div style="position:absolute;left:698.3px;top:583.26px;font-size:7.25px;line-height:7.25px;color:#555;font-weight:normal;white-space:nowrap;">2020</div>
<div style="position:absolute;left:721px;top:583.2px;width:25.5px;height:8.2px;background:#f9c15f;"></div>
<div style="position:absolute;left:750.3px;top:583.26px;font-size:7.25px;line-height:7.25px;color:#555;font-weight:normal;white-space:nowrap;">2021</div>
<div style="position:absolute;left:549.5px;top:597.1px;width:297.20000000000005px;height:1px;background:#ebebeb;"></div>
<div style="position:absolute;right:476.20000000000005px;top:594.59px;font-size:7.1px;line-height:7.1px;color:#555;font-weight:normal;white-space:nowrap;">20</div>
<div style="position:absolute;left:549.5px;top:606.08px;width:297.20000000000005px;height:1px;background:#ebebeb;"></div>
<div style="position:absolute;right:476.20000000000005px;top:603.57px;font-size:7.1px;line-height:7.1px;color:#555;font-weight:normal;white-space:nowrap;">18</div>
<div style="position:absolute;left:549.5px;top:615.0600000000001px;width:297.20000000000005px;height:1px;background:#ebebeb;"></div>
<div style="position:absolute;right:476.20000000000005px;top:612.55px;font-size:7.1px;line-height:7.1px;color:#555;font-weight:normal;white-space:nowrap;">16</div>
<div style="position:absolute;left:549.5px;top:624.04px;width:297.20000000000005px;height:1px;background:#ebebeb;"></div>
<div style="position:absolute;right:476.20000000000005px;top:621.53px;font-size:7.1px;line-height:7.1px;color:#555;font-weight:normal;white-space:nowrap;">14</div>
<div style="position:absolute;left:549.5px;top:633.02px;width:297.20000000000005px;height:1px;background:#ebebeb;"></div>
<div style="position:absolute;right:476.20000000000005px;top:630.51px;font-size:7.1px;line-height:7.1px;color:#555;font-weight:normal;white-space:nowrap;">12</div>
<div style="position:absolute;left:549.5px;top:642.0px;width:297.20000000000005px;height:1px;background:#ebebeb;"></div>
<div style="position:absolute;right:476.20000000000005px;top:639.49px;font-size:7.1px;line-height:7.1px;color:#555;font-weight:normal;white-space:nowrap;">10</div>
<div style="position:absolute;left:549.5px;top:650.98px;width:297.20000000000005px;height:1px;background:#ebebeb;"></div>
<div style="position:absolute;right:476.20000000000005px;top:648.47px;font-size:7.1px;line-height:7.1px;color:#555;font-weight:normal;white-space:nowrap;">8</div>
<div style="position:absolute;left:549.5px;top:659.96px;width:297.20000000000005px;height:1px;background:#ebebeb;"></div>
<div style="position:absolute;right:476.20000000000005px;top:657.45px;font-size:7.1px;line-height:7.1px;color:#555;font-weight:normal;white-space:nowrap;">6</div>
<div style="position:absolute;left:549.5px;top:668.9399999999999px;width:297.20000000000005px;height:1px;background:#ebebeb;"></div>
<div style="position:absolute;right:476.20000000000005px;top:666.43px;font-size:7.1px;line-height:7.1px;color:#555;font-weight:normal;white-space:nowrap;">4</div>
<div style="position:absolute;left:549.5px;top:677.92px;width:297.20000000000005px;height:1px;background:#ebebeb;"></div>
<div style="position:absolute;right:476.20000000000005px;top:675.41px;font-size:7.1px;line-height:7.1px;color:#555;font-weight:normal;white-space:nowrap;">2</div>
<div style="position:absolute;left:549.5px;top:686.9px;width:297.20000000000005px;height:1px;background:#d2d2d2;"></div>
<div style="position:absolute;right:476.20000000000005px;top:684.39px;font-size:7.1px;line-height:7.1px;color:#555;font-weight:normal;white-space:nowrap;">0</div>
<div style="position:absolute;left:553.5px;top:597.6px;width:1px;height:96.29999999999995px;background:#d2d2d2;"></div>
<div style="position:absolute;left:577.8916666666667px;top:597.6px;width:1px;height:96.29999999999995px;background:#ebebeb;"></div>
<div style="position:absolute;left:602.2833333333333px;top:597.6px;width:1px;height:96.29999999999995px;background:#ebebeb;"></div>
<div style="position:absolute;left:626.675px;top:597.6px;width:1px;height:96.29999999999995px;background:#ebebeb;"></div>
<div style="position:absolute;left:651.0666666666667px;top:597.6px;width:1px;height:96.29999999999995px;background:#ebebeb;"></div>
<div style="position:absolute;left:675.4583333333334px;top:597.6px;width:1px;height:96.29999999999995px;background:#ebebeb;"></div>
<div style="position:absolute;left:699.85px;top:597.6px;width:1px;height:96.29999999999995px;background:#ebebeb;"></div>
<div style="position:absolute;left:724.2416666666667px;top:597.6px;width:1px;height:96.29999999999995px;background:#ebebeb;"></div>
<div style="position:absolute;left:748.6333333333333px;top:597.6px;width:1px;height:96.29999999999995px;background:#ebebeb;"></div>
<div style="position:absolute;left:773.0250000000001px;top:597.6px;width:1px;height:96.29999999999995px;background:#ebebeb;"></div>
<div style="position:absolute;left:797.4166666666667px;top:597.6px;width:1px;height:96.29999999999995px;background:#ebebeb;"></div>
<div style="position:absolute;left:821.8083333333334px;top:597.6px;width:1px;height:96.29999999999995px;background:#ebebeb;"></div>
<div style="position:absolute;left:846.2px;top:597.6px;width:1px;height:96.29999999999995px;background:#ebebeb;"></div>
<div style="position:absolute;left:715.7980555555556px;top:597.6px;width:6.504444444444445px;height:89.79999999999995px;background:#f9c15f;"></div>
<div style="position:absolute;left:266.1958333333333px;width:600px;text-align:center;top:695.39px;font-size:7.1px;line-height:7.1px;color:#555;font-weight:normal;white-space:nowrap;">Jan.</div>
<div style="position:absolute;left:290.5875px;width:600px;text-align:center;top:695.39px;font-size:7.1px;line-height:7.1px;color:#555;font-weight:normal;white-space:nowrap;">Fév.</div>
<div style="position:absolute;left:314.97916666666663px;width:600px;text-align:center;top:695.39px;font-size:7.1px;line-height:7.1px;color:#555;font-weight:normal;white-space:nowrap;">Mars</div>
<div style="position:absolute;left:339.3708333333334px;width:600px;text-align:center;top:695.39px;font-size:7.1px;line-height:7.1px;color:#555;font-weight:normal;white-space:nowrap;">Avr.</div>
<div style="position:absolute;left:363.76250000000005px;width:600px;text-align:center;top:695.39px;font-size:7.1px;line-height:7.1px;color:#555;font-weight:normal;white-space:nowrap;">Mai</div>
<div style="position:absolute;left:388.1541666666667px;width:600px;text-align:center;top:695.39px;font-size:7.1px;line-height:7.1px;color:#555;font-weight:normal;white-space:nowrap;">Juin</div>
<div style="position:absolute;left:412.54583333333335px;width:600px;text-align:center;top:695.39px;font-size:7.1px;line-height:7.1px;color:#555;font-weight:normal;white-space:nowrap;">Juil.</div>
<div style="position:absolute;left:436.9375px;width:600px;text-align:center;top:695.39px;font-size:7.1px;line-height:7.1px;color:#555;font-weight:normal;white-space:nowrap;">Août</div>
<div style="position:absolute;left:461.32916666666665px;width:600px;text-align:center;top:695.39px;font-size:7.1px;line-height:7.1px;color:#555;font-weight:normal;white-space:nowrap;">Sep.</div>
<div style="position:absolute;left:485.7208333333333px;width:600px;text-align:center;top:695.39px;font-size:7.1px;line-height:7.1px;color:#555;font-weight:normal;white-space:nowrap;">Oct.</div>
<div style="position:absolute;left:510.11249999999995px;width:600px;text-align:center;top:695.39px;font-size:7.1px;line-height:7.1px;color:#555;font-weight:normal;white-space:nowrap;">Nov.</div>
<div style="position:absolute;left:534.5041666666667px;width:600px;text-align:center;top:695.39px;font-size:7.1px;line-height:7.1px;color:#555;font-weight:normal;white-space:nowrap;">Déc.</div>
<div style="position:absolute;left:399px;top:136.5px;width:124px;height:350px;background:#eceff1;box-shadow:0 2px 6px rgba(0,0,0,0.28);"></div>
<div style="position:absolute;left:399px;top:136.5px;width:124px;height:1.2px;background:#f7f8f9;"></div>
<svg style="position:absolute;left:403.9px;top:144.8px;" width="6.6" height="8.4" viewBox="0 0 6.6 8.4"><path d="M0 0.8 Q0 0 0.8 0 H4.4 L6.6 2.2 V7.6 Q6.6 8.4 5.8 8.4 H0.8 Q0 8.4 0 7.6 Z" fill="#5a9e3a"/><path d="M2.4 3.6 H4.2 M2.4 5.4 H4.2" stroke="#cfe8c0" stroke-width="0.6"/></svg>
<div style="position:absolute;left:417.2px;top:145.39px;font-size:8.4px;line-height:8.4px;color:#222;font-weight:bold;white-space:nowrap;">Factures clients</div>
<div style="position:absolute;left:404.2px;top:162.19px;font-size:8.4px;line-height:8.4px;color:#333;font-weight:normal;white-space:nowrap;">Nouvelle facture</div>
<div style="position:absolute;left:404.2px;top:177.99px;font-size:8.4px;line-height:8.4px;color:#333;font-weight:normal;white-space:nowrap;">Liste</div>
<div style="position:absolute;left:411.3px;top:193.39px;font-size:8.4px;line-height:8.4px;color:#333;font-weight:normal;white-space:nowrap;">Brouillon</div>
<div style="position:absolute;left:411.3px;top:208.39px;font-size:8.4px;line-height:8.4px;color:#333;font-weight:normal;white-space:nowrap;">Impayée</div>
<div style="position:absolute;left:411.3px;top:223.49px;font-size:8.4px;line-height:8.4px;color:#333;font-weight:normal;white-space:nowrap;">Payée</div>
<div style="position:absolute;left:411.3px;top:238.69px;font-size:8.4px;line-height:8.4px;color:#333;font-weight:normal;white-space:nowrap;">Abandonnée</div>
<div style="position:absolute;left:404.2px;top:254.19px;font-size:8.4px;line-height:8.4px;color:#333;font-weight:normal;white-space:nowrap;">Liste des modèles</div>
<div style="position:absolute;left:404.2px;top:269.79px;font-size:8.4px;line-height:8.4px;color:#333;font-weight:normal;white-space:nowrap;">Règlements</div>
<div style="position:absolute;left:411.3px;top:284.89px;font-size:8.4px;line-height:8.4px;color:#333;font-weight:normal;white-space:nowrap;">Rapports</div>
<div style="position:absolute;left:404.2px;top:300.59px;font-size:8.4px;line-height:8.4px;color:#333;font-weight:normal;white-space:nowrap;">Statistiques</div>
<div style="position:absolute;left:399px;top:314px;width:124px;height:1px;background:#dde0e2;"></div>
<svg style="position:absolute;left:403.9px;top:323.6px;" width="6.4" height="8.2" viewBox="0 0 6.4 8.2"><path d="M0 0.8 Q0 0 0.8 0 H4.2 L6.4 2.2 V7.4 Q6.4 8.2 5.6 8.2 H0.8 Q0 8.2 0 7.4 Z" fill="#4a9fc0"/><path d="M2.3 3.6 H4.1 M2.3 5.4 H4.1" stroke="#c8e4f0" stroke-width="0.6"/></svg>
<div style="position:absolute;left:417.3px;top:323.91px;font-size:8.37px;line-height:8.37px;color:#222;font-weight:bold;white-space:nowrap;">Factures fournisseur</div>
<div style="position:absolute;left:404.2px;top:340.39px;font-size:8.4px;line-height:8.4px;color:#333;font-weight:normal;white-space:nowrap;">Nouvelle facture</div>
<div style="position:absolute;left:404.2px;top:355.69px;font-size:8.4px;line-height:8.4px;color:#333;font-weight:normal;white-space:nowrap;">Liste</div>
<div style="position:absolute;left:411.3px;top:370.99px;font-size:8.4px;line-height:8.4px;color:#333;font-weight:normal;white-space:nowrap;">Brouillon</div>
<div style="position:absolute;left:411.3px;top:386.69px;font-size:8.4px;line-height:8.4px;color:#333;font-weight:normal;white-space:nowrap;">Impayée</div>
<div style="position:absolute;left:411.3px;top:401.79px;font-size:8.4px;line-height:8.4px;color:#333;font-weight:normal;white-space:nowrap;">Payée</div>
<div style="position:absolute;left:404.2px;top:417.39px;font-size:8.4px;line-height:8.4px;color:#333;font-weight:normal;white-space:nowrap;">Règlements</div>
<div style="position:absolute;left:411.3px;top:432.49px;font-size:8.4px;line-height:8.4px;color:#333;font-weight:normal;white-space:nowrap;">Rapports</div>
<div style="position:absolute;left:404.2px;top:448.09px;font-size:8.4px;line-height:8.4px;color:#333;font-weight:normal;white-space:nowrap;">Statistiques</div>
<div style="position:absolute;left:404.2px;top:463.49px;font-size:8.4px;line-height:8.4px;color:#333;font-weight:normal;white-space:nowrap;">Etat des échéances</div>
<div style="position:absolute;left:399px;top:476.2px;width:124px;height:1px;background:#dde0e2;"></div>
</div></div>
</body></html>
